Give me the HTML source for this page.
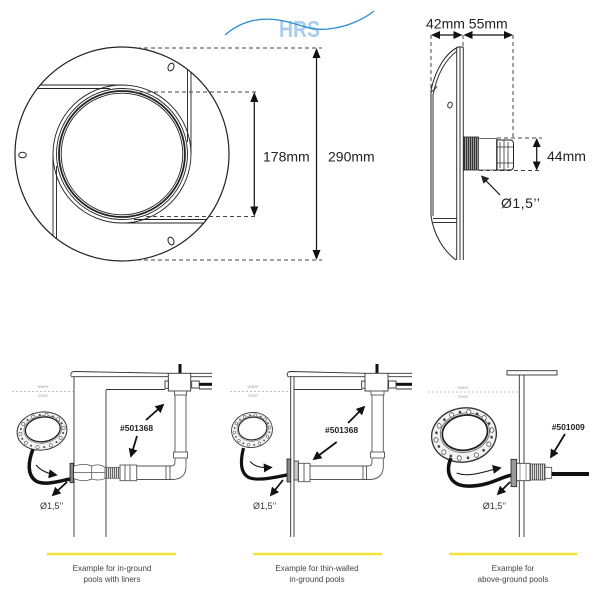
<!DOCTYPE html>
<html><head><meta charset="utf-8"><style>
html,body{margin:0;padding:0;background:#fff;}
svg{display:block;}
text{font-family:"Liberation Sans",sans-serif;}
</style></head><body>
<svg width="600" height="600" viewBox="0 0 600 600" xmlns="http://www.w3.org/2000/svg">
<defs>
<marker id="a" viewBox="0 0 10 10" refX="8" refY="5" markerWidth="9" markerHeight="9" markerUnits="userSpaceOnUse" orient="auto"><path d="M0,0L10,5L0,10z" fill="#111"/></marker>
<marker id="a2" viewBox="0 0 10 10" refX="8" refY="5" markerWidth="8" markerHeight="8" markerUnits="userSpaceOnUse" orient="auto"><path d="M0,0L10,5L0,10z" fill="#222"/></marker>
<pattern id="h1" width="2" height="4" patternUnits="userSpaceOnUse"><rect width="2" height="4" fill="#ddd"/><rect width="1" height="4" fill="#666"/></pattern>
<pattern id="h2" width="2" height="4" patternUnits="userSpaceOnUse"><rect width="2" height="4" fill="#999"/><rect width="1" height="4" fill="#333"/></pattern>
<g id="ring">
<ellipse rx="25" ry="19" fill="#f3f3f3" stroke="#333" stroke-width="1"/>
<ellipse rx="19" ry="13.8" cx="1" cy="-1.5" fill="none" stroke="#666" stroke-width="0.6"/>
<ellipse rx="17.5" ry="12.3" cx="1" cy="-1.5" fill="#fff" stroke="#222" stroke-width="1.3"/>
<g fill="#fff" stroke="#555" stroke-width="0.6">
<circle cx="21.8" cy="0" r="1.6"/><circle cx="17.6" cy="9.4" r="1.6"/><circle cx="6.7" cy="15.4" r="1.6"/><circle cx="-6.7" cy="15.4" r="1.6"/><circle cx="-17.6" cy="9.4" r="1.6"/><circle cx="-21.8" cy="0" r="1.6"/><circle cx="-17.6" cy="-9.4" r="1.6"/><circle cx="-6.7" cy="-15.4" r="1.6"/><circle cx="6.7" cy="-15.4" r="1.6"/><circle cx="17.6" cy="-9.4" r="1.6"/>
</g>
<g fill="#444">
<circle cx="20.6" cy="4.9" r="1"/><circle cx="12.8" cy="13" r="1"/><circle cx="0" cy="16.3" r="1"/><circle cx="-12.8" cy="13" r="1"/><circle cx="-20.6" cy="4.9" r="1"/><circle cx="-20.6" cy="-4.9" r="1"/><circle cx="-12.8" cy="-13" r="1"/><circle cx="0" cy="-16.3" r="1"/><circle cx="12.8" cy="-13" r="1"/><circle cx="20.6" cy="-4.9" r="1"/>
</g>
</g>
</defs>
<rect width="600" height="600" fill="#fff"/>

<!-- Logo -->
<text x="279" y="37" font-size="23" font-weight="bold" fill="#a8cdee" textLength="41" lengthAdjust="spacingAndGlyphs">HRS</text>
<path d="M225,35 C240,22 258,17 278,20 C300,23 306,31 328,29 C348,27 364,19 374,11" fill="none" stroke="#2b8fd0" stroke-width="1.3"/>

<!-- Front view -->
<g fill="none" stroke="#222">
<circle cx="122" cy="154" r="107" stroke-width="1.2"/>
<circle cx="122" cy="154" r="69" stroke-width="0.9"/>
<circle cx="122" cy="154" r="65.5" stroke-width="0.9"/>
<circle cx="122" cy="154" r="63" stroke-width="1.8"/>
<circle cx="122" cy="154" r="60.8" stroke-width="0.9"/>
<path d="M122,85 H40.2 M110,88.5 H37.4 M191,154 V72.2 M187.5,142 V69.4 M122,223 H203.8 M134,219.5 H206.6 M53,154 V235.8 M56.5,166 V238.6" stroke-width="0.9"/>
<ellipse cx="171" cy="67" rx="2.8" ry="4" transform="rotate(25 171 67)" stroke-width="1"/>
<ellipse cx="22.5" cy="155" rx="3.8" ry="2.8" stroke-width="1"/>
<ellipse cx="171" cy="241" rx="2.8" ry="4" transform="rotate(-25 171 241)" stroke-width="1"/>
</g>
<g stroke="#444" stroke-width="1" stroke-dasharray="4,3" fill="none">
<path d="M137,48 H322 M133,92 H258 M146,216.5 H258 M137,260 H322"/>
</g>
<g stroke="#111" stroke-width="1.2">
<line x1="254.3" y1="100" x2="254.3" y2="208"/>
<line x1="316.5" y1="56" x2="316.5" y2="252"/>
</g>
<g fill="#111">
<polygon points="254.3,92 250.3,102 258.3,102"/><polygon points="254.3,216.5 250.3,206.5 258.3,206.5"/>
<polygon points="316.5,48 312.5,58 320.5,58"/><polygon points="316.5,260 312.5,250 320.5,250"/>
</g>
<text x="263" y="161.5" font-size="14" fill="#222">178mm</text>
<text x="328" y="161.5" font-size="14" fill="#222">290mm</text>

<!-- Side view -->
<text x="426" y="28.5" font-size="14" fill="#222">42mm 55mm</text>
<g stroke="#444" stroke-width="1" stroke-dasharray="4,3" fill="none">
<path d="M431,35 V88 M463,35 V47 M513,35 V138 M497,138 H542 M479,170.5 H542"/>
</g>
<g stroke="#111" stroke-width="1.2">
<line x1="436" y1="35" x2="458" y2="35"/><line x1="468" y1="35" x2="508" y2="35"/>
<line x1="536.7" y1="144" x2="536.7" y2="164"/>
</g>
<g fill="#111">
<polygon points="431,35 440,31 440,39"/><polygon points="462.5,35 453.5,31 453.5,39"/>
<polygon points="463.5,35 472.5,31 472.5,39"/><polygon points="513,35 504,31 504,39"/>
<polygon points="536.7,138 532.7,147 540.7,147"/><polygon points="536.7,170.5 532.7,161.5 540.7,161.5"/>
</g>
<text x="547" y="161" font-size="14" fill="#222">44mm</text>
<g fill="none" stroke="#333" stroke-width="1">
<path d="M463,47 L458,47 C446,53 436,68 431,90 L431,216 C434,236 444,251 456,260" stroke="#222"/>
<path d="M457,51 C446,59 437,74 433,95 L433,216"/>
<path d="M433,218.5 H457 M433,222.5 H457"/>
<path d="M456.7,47 V260 M460,47 V260 M463.3,47 V260"/>
<path d="M431,92 C434,90 436,88 437,86"/>
<ellipse cx="450" cy="105" rx="2.2" ry="3" transform="rotate(20 450 105)"/>
</g>
<rect x="463.5" y="137" width="15" height="33" fill="url(#h2)" stroke="#222" stroke-width="0.8"/>
<rect x="478.5" y="138.5" width="18" height="31.5" fill="#fff" stroke="#444" stroke-width="0.8"/>
<path d="M497,140 L510,140 Q513.5,140 513.5,144 L513.5,166 Q513.5,170 510,170 L497,170 Z" fill="#fff" stroke="#222" stroke-width="1"/>
<path d="M500,142 V168 M504,140 V170 M508,142 V168 M497,147 H513 M497,163 H513" stroke="#333" stroke-width="0.8" fill="none"/>
<line x1="500" y1="195" x2="482" y2="176.5" stroke="#111" stroke-width="1.2" marker-end="url(#a2)"/>
<text x="501" y="208" font-size="14" fill="#222" letter-spacing="0.5">Ø1,5’’</text>

<!-- ============ Panel 1 ============ -->
<g fill="none" stroke="#333" stroke-width="0.9">
<path d="M71,376 Q70,371.5 75,371.5 L168,373.3"/>
<path d="M71,376.7 H168"/>
<path d="M74,377 V537 M106,390 V537 M106,389.5 H165"/>
</g>
<g stroke="#aaa" stroke-width="0.7" stroke-dasharray="2,2"><line x1="12" y1="391.5" x2="74" y2="391.5"/></g>
<text x="43" y="388" font-size="4.5" fill="#aaa" text-anchor="middle">water</text>
<text x="43" y="397" font-size="4.5" fill="#aaa" text-anchor="middle">level</text>
<!-- box & pipes -->
<line x1="180" y1="364" x2="180" y2="373.5" stroke="#111" stroke-width="3"/>
<g fill="#fff" stroke="#333" stroke-width="0.9">
<rect x="168.3" y="373.3" width="22.4" height="17.7"/>
<rect x="165" y="381" width="3.3" height="7.3"/>
<rect x="191.7" y="381" width="7.5" height="7"/>
</g>
<g stroke="#333" stroke-width="0.9"><path d="M190.7,373.3 H212 M190.7,376.7 H212 M199,389 H212"/></g>
<line x1="199" y1="384.3" x2="212" y2="384.3" stroke="#111" stroke-width="3"/>
<g fill="#fff" stroke="#555" stroke-width="0.9">
<rect x="174.5" y="391" width="12" height="4"/>
<path d="M175,395 V452 M186,395 V452"/>
<rect x="173.5" y="452" width="14" height="6"/>
<path d="M175,458 V462 Q175,466 171,466 L137,466 M186,458 V466 Q186,479.5 172,479.5 L137,479.5"/>
<path d="M166,466 V479.5 M170,466 V479.5"/>
<rect x="120" y="465" width="16.7" height="15.7"/>
<path d="M125,465 V480.7 M130,465 V480.7"/>
</g>
<rect x="105" y="467.3" width="15" height="11" fill="url(#h1)" stroke="#555" stroke-width="0.7"/>
<path d="M73.5,466.5 C80,464 86,463.5 91.7,466 C97,464 101,464.5 105,467.3 L105,478.3 C101,480.5 97,480.5 91.7,479 C86,481.5 80,481 73.5,478.5 Z M91.7,466 V479 M73.5,472.5 H105" fill="#fff" stroke="#555" stroke-width="0.8"/>
<rect x="70" y="463.3" width="3.5" height="19.4" fill="#888" stroke="#222" stroke-width="0.8"/>
<use href="#ring" transform="translate(42,431) rotate(-8)"/>
<path d="M33,449 C28,462 27,475 36,481 C44,486 60,481 70,479" fill="none" stroke="#111" stroke-width="3.5"/>
<path d="M36,465 C42,472 50,474 56,475" fill="none" stroke="#111" stroke-width="1" marker-end="url(#a)"/>
<line x1="67" y1="482" x2="53" y2="495" stroke="#111" stroke-width="1.8" marker-end="url(#a)"/>
<text x="40" y="509" font-size="9" fill="#333">Ø1,5’’</text>
<text x="120" y="431" font-size="8.5" font-weight="bold" fill="#222">#501368</text>
<line x1="146" y1="420" x2="163" y2="405" stroke="#111" stroke-width="1.8" marker-end="url(#a)"/>
<line x1="137" y1="436" x2="131" y2="456" stroke="#111" stroke-width="1.8" marker-end="url(#a)"/>
<line x1="47" y1="554" x2="176" y2="554" stroke="#f4e33b" stroke-width="2.5"/>
<text x="112" y="571" font-size="8" fill="#444" text-anchor="middle">Example for in-ground</text>
<text x="112" y="582" font-size="8" fill="#444" text-anchor="middle">pools with liners</text>

<!-- ============ Panel 2 ============ -->
<g fill="none" stroke="#333" stroke-width="0.9">
<path d="M287.3,376 Q286.5,371.5 291,371.5 L365,373.3"/>
<path d="M287.3,376.7 H365"/>
<path d="M290.7,377 V537 M294,377 V537 M294,389.5 H362"/>
</g>
<g stroke="#aaa" stroke-width="0.7" stroke-dasharray="2,2"><line x1="230" y1="391.5" x2="290" y2="391.5"/></g>
<text x="253" y="388" font-size="4.5" fill="#aaa" text-anchor="middle">water</text>
<text x="253" y="397" font-size="4.5" fill="#aaa" text-anchor="middle">level</text>
<line x1="377" y1="364" x2="377" y2="373.5" stroke="#111" stroke-width="3"/>
<g fill="#fff" stroke="#333" stroke-width="0.9">
<rect x="365" y="373.3" width="23" height="17.7"/>
<rect x="361.7" y="381" width="3.3" height="7.3"/>
<rect x="388.5" y="381" width="7.5" height="7"/>
</g>
<g stroke="#333" stroke-width="0.9"><path d="M388,373.3 H412 M388,376.7 H412 M396,389 H412"/></g>
<line x1="396" y1="384.3" x2="412" y2="384.3" stroke="#111" stroke-width="3"/>
<g fill="#fff" stroke="#555" stroke-width="0.9">
<rect x="371" y="391" width="13" height="4"/>
<path d="M372,395 V452 M383.3,395 V452"/>
<rect x="370.5" y="452" width="14" height="6"/>
<path d="M372,458 V462 Q372,466 368,466 L310,466 M383.3,458 V466 Q383.3,479.5 369,479.5 L310,479.5"/>
<path d="M363,466 V479.5 M366.5,466 V479.5"/>
<rect x="298.3" y="463.3" width="11.7" height="18.4"/>
<path d="M304,463.3 V481.7"/>
</g>
<rect x="287" y="459" width="3.7" height="23" fill="#888" stroke="#222" stroke-width="0.8"/>
<rect x="294" y="461" width="4.3" height="19" fill="#ccc" stroke="#333" stroke-width="0.8"/>
<use href="#ring" transform="translate(252,430) rotate(-8) scale(0.82,0.92)"/>
<path d="M243.5,448 C240,462 240,474 250,478 C260,481 276,477 287,475" fill="none" stroke="#111" stroke-width="3.2"/>
<path d="M250,461.5 C255,467 262,468 271,467.5" fill="none" stroke="#111" stroke-width="1" marker-end="url(#a)"/>
<line x1="283" y1="480" x2="271" y2="495" stroke="#111" stroke-width="1.8" marker-end="url(#a)"/>
<text x="253" y="509" font-size="9" fill="#333">Ø1,5’’</text>
<text x="325" y="433" font-size="8.5" font-weight="bold" fill="#222">#501368</text>
<line x1="348" y1="423" x2="364" y2="407" stroke="#111" stroke-width="1.8" marker-end="url(#a)"/>
<line x1="336.7" y1="442" x2="314" y2="459" stroke="#111" stroke-width="1.8" marker-end="url(#a)"/>
<line x1="253" y1="554" x2="382" y2="554" stroke="#f4e33b" stroke-width="2.5"/>
<text x="317" y="571" font-size="8" fill="#444" text-anchor="middle">Example for thin-walled</text>
<text x="317" y="582" font-size="8" fill="#444" text-anchor="middle">in-ground pools</text>

<!-- ============ Panel 3 ============ -->
<rect x="507" y="370.7" width="50" height="4.3" fill="#fff" stroke="#333" stroke-width="0.9"/>
<path d="M519.3,375 V537 M524,375 V537" stroke="#333" stroke-width="0.9" fill="none"/>
<g stroke="#aaa" stroke-width="0.7" stroke-dasharray="2,2"><line x1="428" y1="392" x2="519" y2="392"/></g>
<text x="463" y="389" font-size="4.5" fill="#aaa" text-anchor="middle">water</text>
<text x="463" y="398" font-size="4.5" fill="#aaa" text-anchor="middle">level</text>
<use href="#ring" transform="translate(464,435) rotate(-10) scale(1.3,1.42)"/>
<path d="M451,458 C445,472 450,485 466,486 C488,487 500,477 512,475" fill="none" stroke="#111" stroke-width="3.5"/>
<path d="M456.7,473 C470,478 485,471 500,468" fill="none" stroke="#111" stroke-width="1" marker-end="url(#a)"/>
<rect x="511" y="459.3" width="5.7" height="27.4" fill="#999" stroke="#222" stroke-width="0.8"/>
<rect x="516.7" y="463.3" width="13.3" height="17.4" fill="#fff" stroke="#333" stroke-width="0.8"/>
<path d="M520,463.3 V480.7 M526,463.3 V480.7" stroke="#555" stroke-width="0.6"/>
<rect x="530" y="464" width="15" height="16" fill="url(#h1)" stroke="#444" stroke-width="0.8"/>
<rect x="545" y="467.3" width="6.7" height="11" fill="#fff" stroke="#444" stroke-width="0.8"/>
<line x1="551.7" y1="474" x2="589" y2="474" stroke="#111" stroke-width="4"/>
<text x="551.7" y="430" font-size="8.5" font-weight="bold" fill="#222">#501009</text>
<line x1="565" y1="434" x2="551" y2="457" stroke="#111" stroke-width="1.8" marker-end="url(#a)"/>
<line x1="510" y1="482" x2="498" y2="494" stroke="#111" stroke-width="1.8" marker-end="url(#a)"/>
<text x="482.7" y="509" font-size="9" fill="#333">Ø1,5’’</text>
<line x1="449" y1="554" x2="577" y2="554" stroke="#f4e33b" stroke-width="2.5"/>
<text x="513" y="571" font-size="8" fill="#444" text-anchor="middle">Example for</text>
<text x="513" y="582" font-size="8" fill="#444" text-anchor="middle">above-ground pools</text>
</svg>
</body></html>
